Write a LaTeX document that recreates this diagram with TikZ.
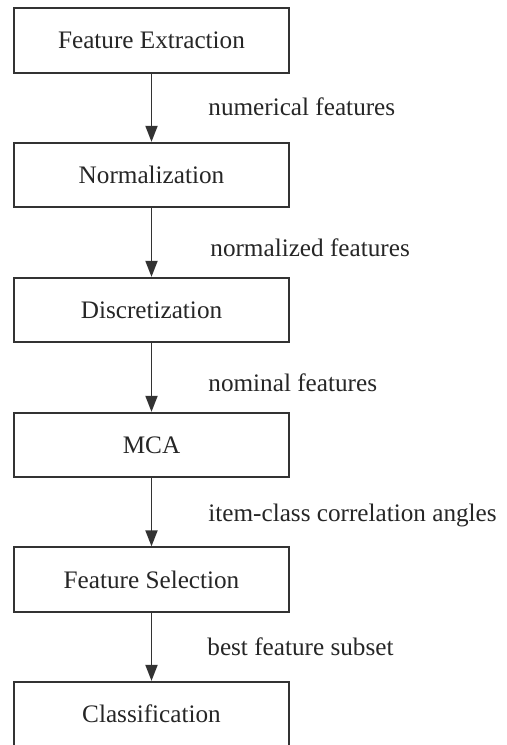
\documentclass[tikz,border=0pt]{standalone}
\usepackage{fontspec}
\setmainfont{Liberation Serif}
\usetikzlibrary{arrows.meta}

\begin{document}
\begin{tikzpicture}[x=0.5pt, y=-0.5pt,
        box/.style={draw=black!80, line width=0.9pt, minimum width=137.5pt, minimum height=32.25pt, inner sep=0pt, font=\fontsize{12.6}{15}\selectfont, text=black!85},
        flow/.style={draw=black!80, line width=0.9pt, -{Triangle[length=8pt, width=6pt]}},
        note/.style={anchor=west, inner sep=0pt, font=\fontsize{12.6}{15}\selectfont, text=black!85}]
                \clip (0, 0) rectangle (507, 745);
                \fill[white] (0, 0) rectangle (507, 745);

                % okvirji
                \node[box] (extr) at (151.5, 40.5) {Feature Extraction};
                \node[box] (norm) at (151.5, 175) {Normalization};
                \node[box] (disc) at (151.5, 310) {Discretization};
                \node[box] (mca) at (151.5, 445) {MCA};
                \node[box] (sel) at (151.5, 579.5) {Feature Selection};
                \node[box] (cls) at (151.5, 714) {Classification};

                % puscice
                \draw[flow] (extr) -- (norm);
                \draw[flow] (norm) -- (disc);
                \draw[flow] (disc) -- (mca);
                \draw[flow] (mca) -- (sel);
                \draw[flow] (sel) -- (cls);

                % oznake
                \node[note] (n1) at (208, 107) {numerical features};
                \node[note] (n2) at (210, 248) {normalized features};
                \node[note] (n3) at (208, 383) {nominal features};
                \node[note] (n4) at (208, 515) {item-class correlation angles};
                \node[note] (n5) at (207, 647) {best feature subset};
            \end{tikzpicture}
\end{document}
